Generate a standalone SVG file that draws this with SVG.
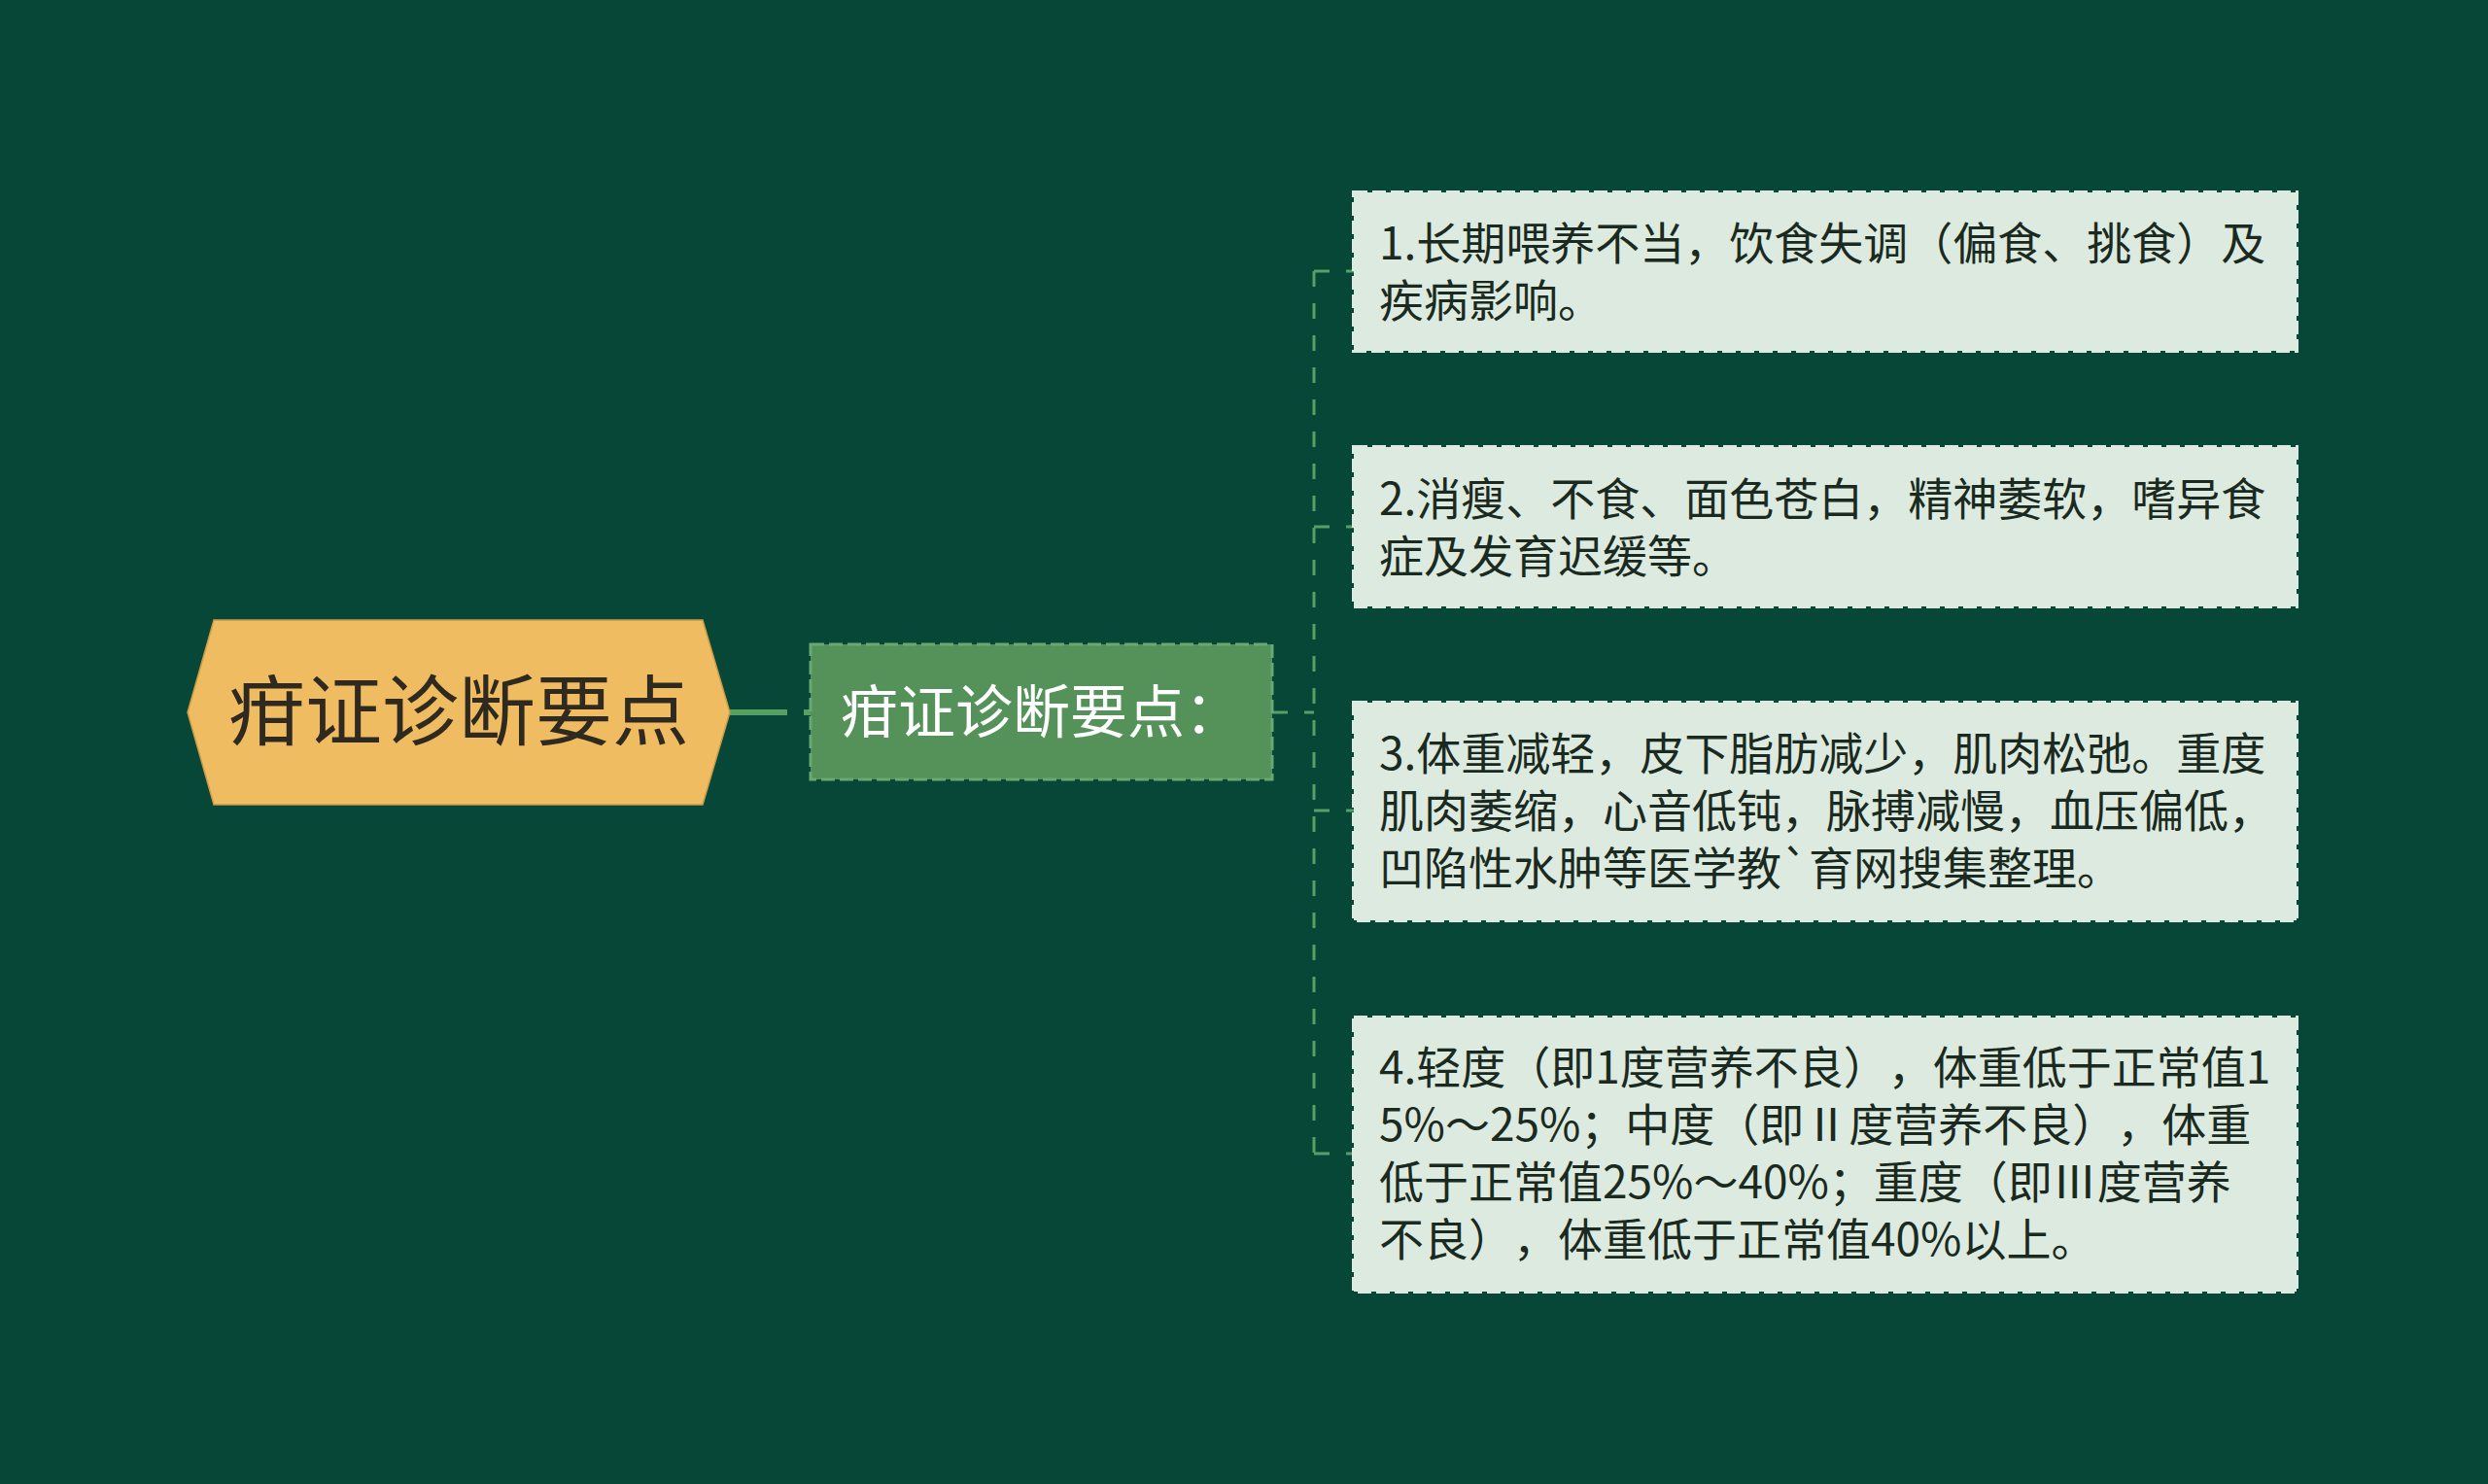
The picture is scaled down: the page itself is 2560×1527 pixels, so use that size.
<svg xmlns="http://www.w3.org/2000/svg" width="2560" height="1527" viewBox="0 0 2560 1527">
<defs>
<style>
.bg{fill:#074737}
text{text-spacing-trim:space-all}
.leaf{fill:#DCEADF;stroke:#DCEADF;stroke-width:4;stroke-dasharray:14 5}
.leaft{font-family:"Noto Sans CJK SC","Noto Sans",sans-serif;font-size:46px;fill:#1b2a20}
.conn{fill:none;stroke:#56A064;stroke-width:3;stroke-dasharray:16 17}
</style>
</defs>
<rect class="bg" x="0" y="0" width="2560" height="1527"/>
<g id="connectors">
<line x1="751" y1="733" x2="834" y2="733" stroke="#56A064" stroke-width="6" stroke-dasharray="59 17"/>
<line class="conn" x1="1309" y1="733" x2="1352" y2="733" stroke-dasharray="14 17"/>
<line class="conn" x1="1352" y1="279" x2="1352" y2="1187"/>
<line class="conn" x1="1352" y1="279" x2="1393" y2="279"/>
<line class="conn" x1="1352" y1="542" x2="1393" y2="542"/>
<line class="conn" x1="1352" y1="834" x2="1393" y2="834"/>
<line class="conn" x1="1352" y1="1187" x2="1393" y2="1187"/>
</g>
<g id="root">
<polygon points="193,733 220,638 723,638 751,733 723,828 220,828" fill="#F0BC62" stroke="#C99A45" stroke-width="1.5"/>
<text x="472" y="761" text-anchor="middle" font-family="Noto Sans CJK SC,Noto Sans,sans-serif" font-size="79" fill="#2f2a20">疳证诊断要点</text>
</g>
<g id="main">
<rect x="834" y="663" width="475" height="139" fill="#54925A" stroke="#6aa872" stroke-width="3" stroke-dasharray="14 5"/>
<text x="865" y="754" font-family="Noto Sans CJK SC,Noto Sans,sans-serif" font-size="59" fill="#ffffff">疳证诊断要点：</text>
</g>
<g id="leaf1">
<rect class="leaf" x="1393" y="198" width="970" height="163"/>
<text class="leaft"><tspan x="1419" y="267">1.长期喂养不当，饮食失调（偏食、挑食）及</tspan><tspan x="1419" y="326">疾病影响。</tspan></text>
</g>
<g id="leaf2">
<rect class="leaf" x="1393" y="460" width="970" height="164"/>
<text class="leaft"><tspan x="1419" y="530">2.消瘦、不食、面色苍白，精神萎软，嗜异食</tspan><tspan x="1419" y="589">症及发育迟缓等。</tspan></text>
</g>
<g id="leaf3">
<rect class="leaf" x="1393" y="723" width="970" height="224"/>
<text class="leaft"><tspan x="1419" y="792">3.体重减轻，皮下脂肪减少，肌肉松弛。重度</tspan><tspan x="1419" y="851">肌肉萎缩，心音低钝，脉搏减慢，血压偏低，</tspan><tspan x="1419" y="910">凹陷性水肿等医学教`育网搜集整理。</tspan></text>
</g>
<g id="leaf4">
<rect class="leaf" x="1393" y="1047" width="970" height="282"/>
<text class="leaft"><tspan x="1419" y="1115">4.轻度（即1度营养不良），体重低于正常值1</tspan><tspan x="1419" y="1174">5%～25%；中度（即Ⅱ度营养不良），体重</tspan><tspan x="1419" y="1233">低于正常值25%～40%；重度（即Ⅲ度营养</tspan><tspan x="1419" y="1292">不良），体重低于正常值40%以上。</tspan></text>
</g>
</svg>
